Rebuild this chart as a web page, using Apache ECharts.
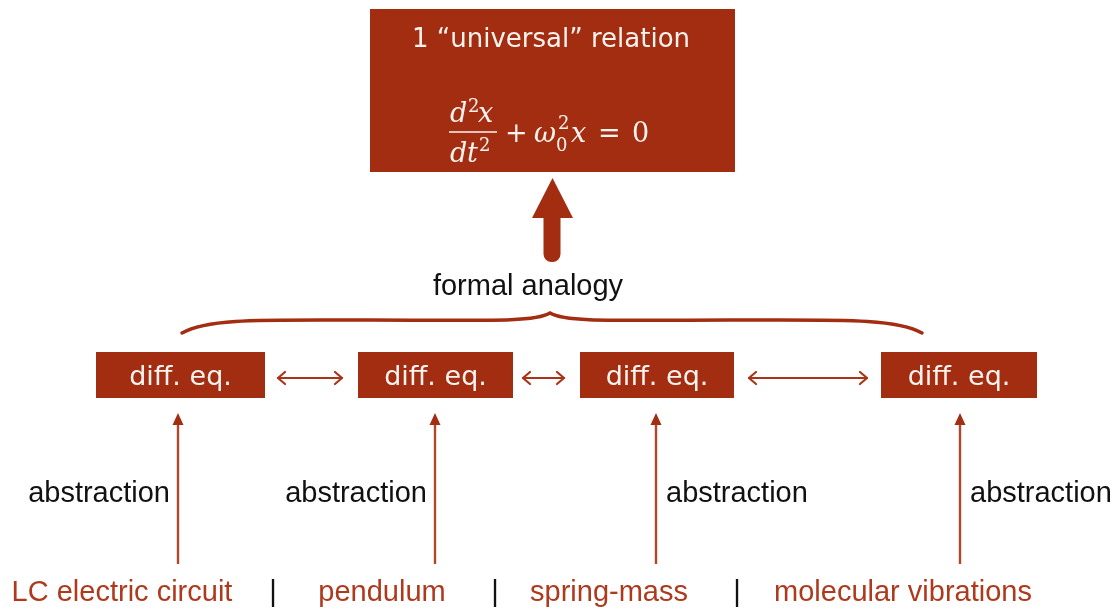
<!DOCTYPE html>
<html><head><meta charset="utf-8">
<script src="https://cdn.jsdelivr.net/npm/echarts@6/dist/echarts.min.js"></script>
<style>html,body{margin:0;padding:0;background:#fff}#c{width:1116px;height:612px}</style>
</head><body><div id="c"></div>
<script>
// ---- content ----
const topLabel = '1 \u201cuniversal\u201d relation';
// equation pieces of d²x/dt² + ω₀²x = 0
const eqPieces = ['d', '2', 'x', 'd', 't', '2', '+', '\u03c9', '0', '2', 'x', '=', '0'];
const analogyLabel = 'formal analogy';
const eqLabels = ['diff. eq.', 'diff. eq.', 'diff. eq.', 'diff. eq.'];
const systems = ['LC electric circuit', 'pendulum', 'spring-mass', 'molecular vibrations'];
const abstractionLabel = 'abstraction';
const abstractionSide = ['left', 'left', 'right', 'right'];

// ---- layout (axis units = pixels of a 1116 x 612 canvas) ----
const eqPieceX = [450, 468, 478, 450, 467, 479, 505, 534, 556, 558, 571, 598, 632];
const eqPieceBase = [122, 112, 122, 162, 162, 151, 142, 142, 151, 129, 142, 142, 142];
const eqPieceKind = ['i', 's', 'i', 'i', 'i', 's', 'r', 'i', 's', 's', 'i', 'r', 'r'];
const eqBoxLeft = [96, 358, 580, 881];
const eqBoxRight = [265, 513, 734, 1037];
const arrowX = [178, 435, 656, 960];
const systemX = [122, 382, 609, 903];
const separatorX = [273, 495, 737];
const linkFrom = [278, 523, 749];
const linkTo = [342, 564, 867];

const RED = '#A32D11';
const LABEL_RED = '#AE3A1E';
const ARROW_RED = '#B2452A';
const WHITE = '#fbf3ef';
const SANS = '"Liberation Sans", Arial, sans-serif';
const ROUND = '"DejaVu Sans", sans-serif';
const SERIF = '"DejaVu Serif", "Liberation Serif", serif';
const eqFont = { i: 'italic 27px ' + SERIF, r: '27px ' + SERIF, s: '18px ' + SERIF };

const chart = echarts.init(document.getElementById('c'));

function C(api, x, y) { return api.coord([x, y]); }

const series = [];

// Top box with equation
series.push({
  type: 'custom', coordinateSystem: 'cartesian2d', silent: true,
  data: [[552, 90]],
  renderItem: (params, api) => {
    const a = C(api, 370, 9), b = C(api, 735, 172);
    const t = C(api, 551, 40);
    const l1 = C(api, 449, 132), l2 = C(api, 497, 132);
    const kids = [
      { type: 'rect', shape: { x: a[0], y: a[1], width: b[0] - a[0], height: b[1] - a[1] }, style: { fill: RED } },
      { type: 'text', x: t[0], y: t[1], style: { text: topLabel, fill: WHITE, font: '26px ' + ROUND, align: 'center', verticalAlign: 'middle' } },
      { type: 'line', shape: { x1: l1[0], y1: l1[1], x2: l2[0], y2: l2[1] }, style: { stroke: WHITE, lineWidth: 1.6 } }
    ];
    eqPieces.forEach((s, k) => {
      const kind = eqPieceKind[k];
      const desc = kind === 's' ? 4 : 6;
      const p = C(api, eqPieceX[k], eqPieceBase[k] + desc);
      kids.push({ type: 'text', x: p[0], y: p[1], style: { text: s, fill: WHITE, font: eqFont[kind], align: 'left', verticalAlign: 'bottom' } });
    });
    return { type: 'group', children: kids };
  }
});

// Big upward arrow
series.push({
  type: 'custom', coordinateSystem: 'cartesian2d', silent: true,
  data: [[552, 220]],
  renderItem: (params, api) => {
    const p1 = C(api, 552.5, 178), p2 = C(api, 532, 218), p3 = C(api, 573, 218);
    const s1 = C(api, 543.5, 214), s2 = C(api, 560.5, 262);
    return { type: 'group', children: [
      { type: 'polygon', shape: { points: [p1, p2, p3] }, style: { fill: RED } },
      { type: 'rect', shape: { x: s1[0], y: s1[1], width: s2[0] - s1[0], height: s2[1] - s1[1], r: [0, 0, 8, 8] }, style: { fill: RED } }
    ]};
  }
});

// "formal analogy" label
series.push({
  type: 'custom', coordinateSystem: 'cartesian2d', silent: true,
  data: [[528, 287]],
  renderItem: (params, api) => {
    const p = api.coord([api.value(0), api.value(1)]);
    return { type: 'text', x: p[0], y: p[1], style: { text: analogyLabel, fill: '#111', font: '29px ' + SANS, align: 'center', verticalAlign: 'middle' } };
  }
});

// Curly brace
series.push({
  type: 'custom', coordinateSystem: 'cartesian2d', silent: true,
  data: [[550, 320]],
  renderItem: (params, api) => {
    const pts = [[182, 333], [208, 318], [262, 320], [370, 320], [475, 320], [534, 323], [550, 313],
                 [566, 323], [625, 320], [730, 320], [840, 320], [896, 318], [922, 333]];
    const q = pts.map(p => C(api, p[0], p[1]));
    let d = 'M' + q[0][0] + ' ' + q[0][1];
    for (let i = 1; i < q.length; i += 3) {
      d += ' C' + q[i][0] + ' ' + q[i][1] + ' ' + q[i + 1][0] + ' ' + q[i + 1][1] + ' ' + q[i + 2][0] + ' ' + q[i + 2][1];
    }
    return { type: 'path', shape: { pathData: d }, style: { fill: null, stroke: RED, lineWidth: 3.5, lineCap: 'round' } };
  }
});

// diff. eq. boxes
series.push({
  type: 'custom', coordinateSystem: 'cartesian2d', silent: true,
  data: eqLabels.map((_, i) => [eqBoxLeft[i], eqBoxRight[i]]),
  renderItem: (params, api) => {
    const i = params.dataIndex;
    const a = C(api, api.value(0), 352), b = C(api, api.value(1), 398);
    const m = C(api, (api.value(0) + api.value(1)) / 2, 378);
    return { type: 'group', children: [
      { type: 'rect', shape: { x: a[0], y: a[1], width: b[0] - a[0], height: b[1] - a[1] }, style: { fill: RED } },
      { type: 'text', x: m[0], y: m[1], style: { text: eqLabels[i], fill: WHITE, font: '27px ' + ROUND, align: 'center', verticalAlign: 'middle' } }
    ]};
  }
});

// Double-headed arrows between boxes
series.push({
  type: 'custom', coordinateSystem: 'cartesian2d', silent: true,
  data: linkFrom.map((v, i) => [v, linkTo[i]]),
  renderItem: (params, api) => {
    const x1 = api.value(0), x2 = api.value(1), y = 378;
    const a = C(api, x1, y), b = C(api, x2, y);
    const st = { stroke: '#A83519', lineWidth: 2.2, fill: null, lineCap: 'round', lineJoin: 'round' };
    return { type: 'group', children: [
      { type: 'line', shape: { x1: a[0], y1: a[1], x2: b[0], y2: b[1] }, style: st },
      { type: 'polyline', shape: { points: [C(api, x1 + 7, y - 6), a, C(api, x1 + 7, y + 6)] }, style: st },
      { type: 'polyline', shape: { points: [C(api, x2 - 7, y - 6), b, C(api, x2 - 7, y + 6)] }, style: st }
    ]};
  }
});

// Abstraction arrows + labels
series.push({
  type: 'custom', coordinateSystem: 'cartesian2d', silent: true,
  data: arrowX.map(x => [x, 564]),
  renderItem: (params, api) => {
    const i = params.dataIndex;
    const x = api.value(0);
    const bottom = C(api, x, api.value(1)), top = C(api, x, 423);
    const left = abstractionSide[i] === 'left';
    const lp = C(api, left ? x - 8 : x + 10, 494);
    return { type: 'group', children: [
      { type: 'line', shape: { x1: bottom[0], y1: bottom[1], x2: top[0], y2: top[1] }, style: { stroke: ARROW_RED, lineWidth: 2.4 } },
      { type: 'polygon', shape: { points: [C(api, x, 413), C(api, x - 5.5, 425), C(api, x + 5.5, 425)] }, style: { fill: RED } },
      { type: 'text', x: lp[0], y: lp[1], style: { text: abstractionLabel, fill: '#111', font: '29px ' + SANS, align: left ? 'right' : 'left', verticalAlign: 'middle' } }
    ]};
  }
});

// Bottom system labels
series.push({
  type: 'custom', coordinateSystem: 'cartesian2d', silent: true,
  data: systemX.map(x => [x, 593]),
  renderItem: (params, api) => {
    const p = api.coord([api.value(0), api.value(1)]);
    return { type: 'text', x: p[0], y: p[1], style: { text: systems[params.dataIndex], fill: LABEL_RED, font: '29px ' + SANS, align: 'center', verticalAlign: 'middle' } };
  }
});

// Separators
series.push({
  type: 'custom', coordinateSystem: 'cartesian2d', silent: true,
  data: separatorX.map(x => [x, 593]),
  renderItem: (params, api) => {
    const p = api.coord([api.value(0), api.value(1)]);
    return { type: 'text', x: p[0], y: p[1], style: { text: '|', fill: '#111', font: '29px ' + SANS, align: 'center', verticalAlign: 'middle' } };
  }
});

chart.setOption({
  animation: false,
  backgroundColor: '#ffffff',
  grid: { left: 0, right: 0, top: 0, bottom: 0 },
  xAxis: { type: 'value', min: 0, max: 1116, show: false },
  yAxis: { type: 'value', min: 0, max: 612, inverse: true, show: false },
  series: series
});
</script>
</body></html>
